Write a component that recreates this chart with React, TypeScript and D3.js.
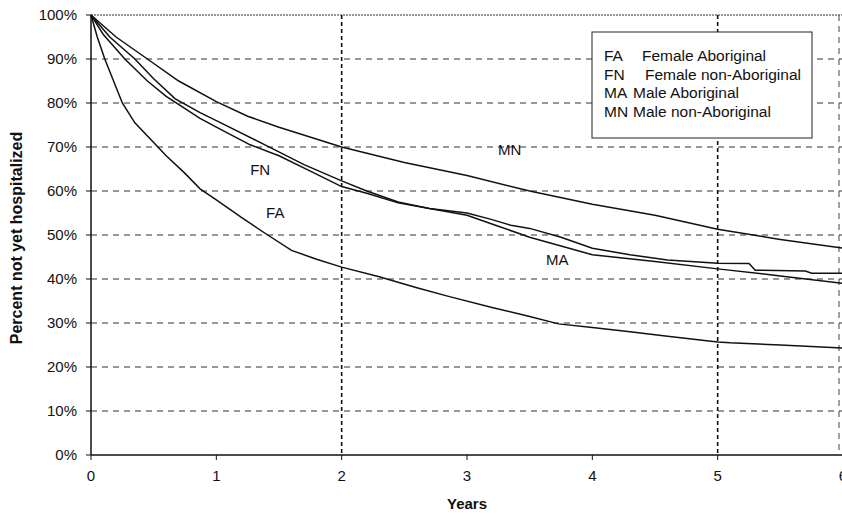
import React from "react";
import * as d3 from "d3";

// Kaplan-Meier style survival curves (years, percent not yet hospitalized)
const faPoints: [number, number][] = [
  [0, 100], [0.05, 95], [0.11, 90], [0.18, 85], [0.25, 80], [0.35, 75.5], [0.5, 71],
  [0.6, 68], [0.75, 64], [0.87, 60.5], [1.0, 58], [1.2, 54], [1.41, 50], [1.6, 46.5],
  [1.8, 44.5], [2.0, 42.7], [2.3, 40.5], [2.6, 38], [2.86, 36], [3.2, 33.5], [3.5, 31.5],
  [3.73, 29.8], [4.0, 29], [4.3, 28], [4.6, 27], [5.0, 25.7], [5.1, 25.5], [5.5, 25], [6, 24.3],
];
const fnPoints: [number, number][] = [
  [0, 100], [0.1, 95.5], [0.27, 90], [0.45, 85], [0.6, 81.5], [0.87, 76.5], [1.0, 74.5],
  [1.27, 70.5], [1.5, 68], [1.75, 64.5], [2, 61], [2.2, 59.5], [2.45, 57.3], [2.7, 56],
  [3, 55], [3.2, 53.5], [3.35, 52.2], [3.5, 51.5], [3.75, 49.5], [4, 47], [4.3, 45.5],
  [4.6, 44.3], [5, 43.6], [5.25, 43.5], [5.3, 42], [5.7, 41.8], [5.75, 41.3], [6, 41.3],
];
const maPoints: [number, number][] = [
  [0, 100], [0.15, 95], [0.35, 90], [0.5, 85.5], [0.67, 81], [0.87, 77.8], [1.0, 76],
  [1.4, 70.3], [1.7, 66], [2, 62.3], [2.2, 60], [2.45, 57.5], [2.7, 56], [3, 54.5],
  [3.25, 52], [3.5, 49.5], [3.75, 47.5], [4, 45.5], [4.5, 44], [5, 42.3], [5.5, 40.7], [6, 39],
];
const mnPoints: [number, number][] = [
  [0, 100], [0.2, 95], [0.45, 90], [0.7, 85], [1.0, 80.3], [1.25, 77], [1.5, 74.5],
  [2, 70], [2.5, 66.5], [3, 63.5], [3.5, 60], [4, 57], [4.5, 54.5], [5, 51.3], [5.5, 49], [6, 47],
];

const xTicks = [0, 1, 2, 3, 4, 5, 6];
const yTicks = [0, 10, 20, 30, 40, 50, 60, 70, 80, 90, 100];
const markedYears = [2, 5];

const legendCodes = ["FA", "FN", "MA", "MN"];
const legendNames = ["Female Aboriginal", "Female non-Aboriginal", "Male Aboriginal", "Male non-Aboriginal"];

// curve label: [code, year, percent]
const curveLabels: [string, number, number][] = [
  ["FN", 1.35, 63.6],
  ["FA", 1.47, 53.8],
  ["MN", 3.34, 68.2],
  ["MA", 3.72, 43.2],
];

const W = 842;
const H = 520;
const font = "'Liberation Sans', Arial, Helvetica, sans-serif";

export default function App() {
  const x = d3.scaleLinear().domain([0, 6]).range([91, 843]);
  const y = d3.scaleLinear().domain([0, 100]).range([455, 15]);

  const line = d3.line<[number, number]>()
    .x(d => x(d[0]))
    .y(d => y(d[1]));

  const series = [faPoints, fnPoints, maPoints, mnPoints];

  return (
    <svg width={W} height={H} style={{ position: "absolute", left: 0, top: 0, background: "#fff" }}
      fontFamily={font}>
      {/* horizontal gridlines */}
      {yTicks.filter(t => t > 0).map(t => (
        <line key={"g" + t} x1={x(0)} x2={x(6)} y1={y(t)} y2={y(t)}
          stroke="#333" strokeWidth={1}
          strokeDasharray={t === 100 ? "2,1" : "6,5"} />
      ))}
      {/* right border */}
      <line x1={839} x2={839} y1={y(100)} y2={y(0)} stroke="#444" strokeDasharray="6,5" />

      {/* marked year verticals */}
      {markedYears.map(m => (
        <line key={"m" + m} x1={x(m)} x2={x(m)} y1={y(100)} y2={y(0)}
          stroke="#111" strokeWidth={1.6} strokeDasharray="4,3" />
      ))}

      {/* legend */}
      <rect x={592} y={32} width={220} height={106} fill="#fff" stroke="#222" strokeWidth={1} />
      {legendCodes.map((c, i) => (
        <g key={c} fontSize={15.5} fill="#111">
          <text x={604} y={61 + i * 18.7}>{c}</text>
          <text x={c === "FA" ? 642 : c === "FN" ? 645 : 633} y={61 + i * 18.7}>{legendNames[i]}</text>
        </g>
      ))}

      {/* curves */}
      {series.map((s, i) => (
        <path key={i} d={line(s) || ""} fill="none" stroke="#111" strokeWidth={1.5} />
      ))}

      {curveLabels.map(([c, t, v]) => (
        <text key={c} x={x(t)} y={y(v)} fontSize={15} fill="#111" textAnchor="middle">{c}</text>
      ))}

      {/* axes */}
      <line x1={x(0)} x2={x(0)} y1={y(100)} y2={y(0)} stroke="#111" strokeWidth={1.5} />
      <line x1={x(0)} x2={x(6)} y1={y(0)} y2={y(0)} stroke="#111" strokeWidth={1.5} />

      {yTicks.map(t => (
        <g key={"y" + t}>
          <line x1={x(0) - 5} x2={x(0)} y1={y(t)} y2={y(t)} stroke="#111" />
          <text x={77} y={y(t) + 5} fontSize={15} textAnchor="end" fill="#111">{t}%</text>
        </g>
      ))}
      {xTicks.map(t => (
        <g key={"x" + t}>
          <line x1={x(t)} x2={x(t)} y1={y(0)} y2={y(0) + 5} stroke="#111" />
          <text x={x(t)} y={481} fontSize={15} textAnchor="middle" fill="#111">{t}</text>
        </g>
      ))}

      <text x={x(3)} y={509} fontSize={15} fontWeight="bold" textAnchor="middle" fill="#111">Years</text>
      <text transform={`translate(22,${y(50) + 3}) rotate(-90)`} fontSize={16} fontWeight="bold"
        textAnchor="middle" fill="#111">Percent not yet hospitalized</text>
    </svg>
  );
}
